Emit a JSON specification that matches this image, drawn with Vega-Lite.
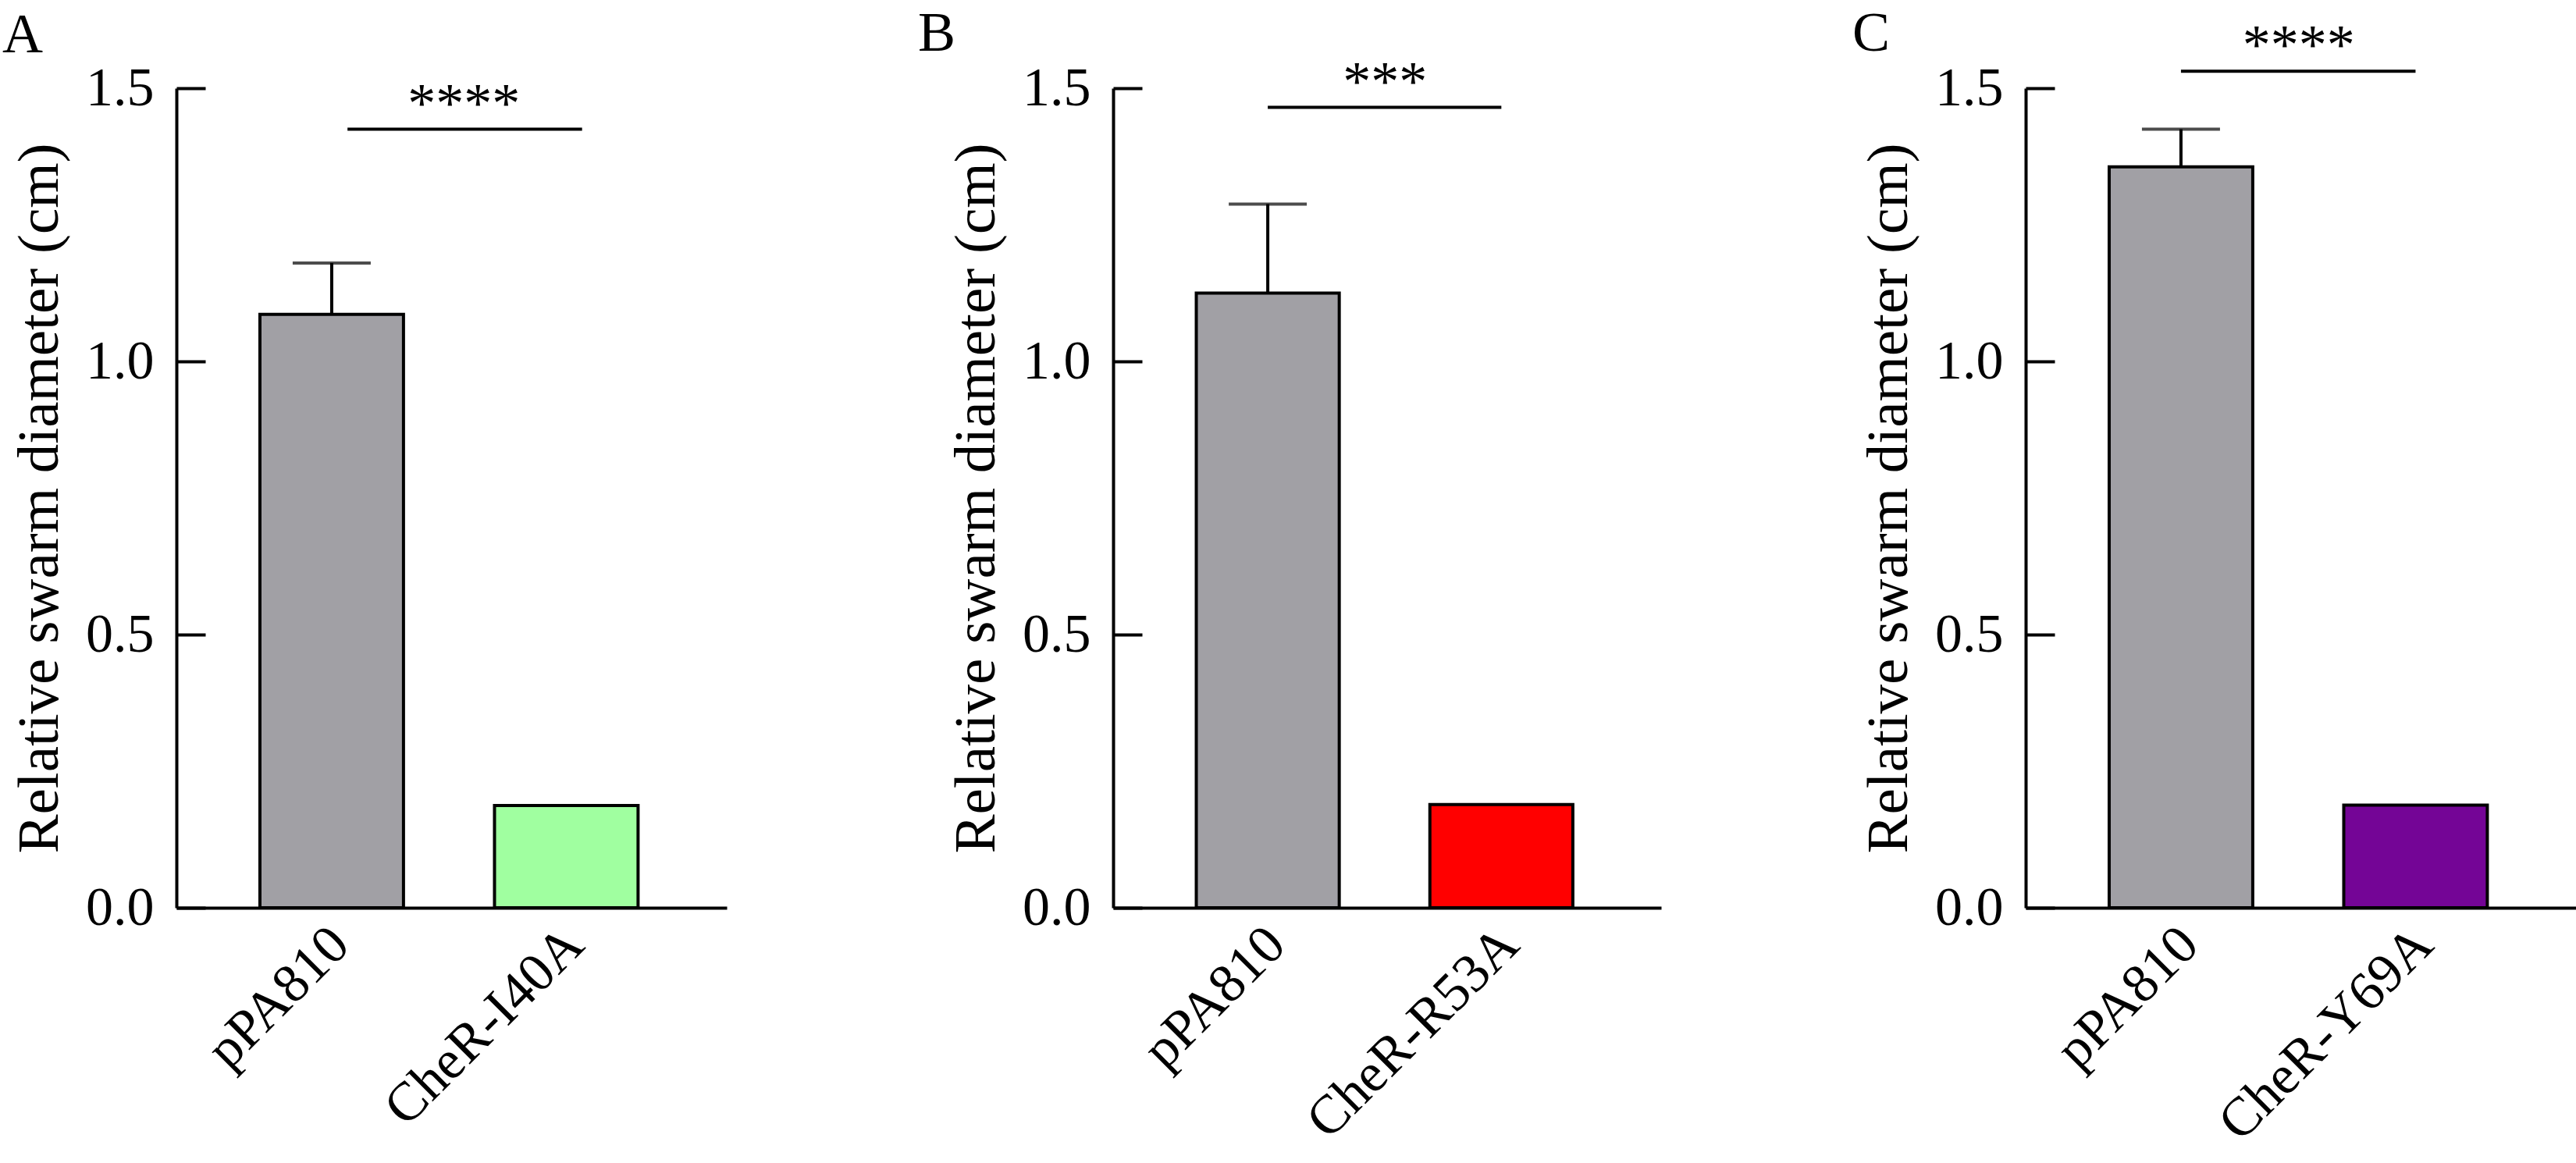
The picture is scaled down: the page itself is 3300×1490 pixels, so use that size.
{
  "$schema": "https://vega.github.io/schema/vega-lite/v6.json",
  "description": "Relative swarm diameter of pPA810 versus three CheR point mutants.",
  "padding": {"left": 3, "top": 6, "right": 0, "bottom": 0},
  "spacing": 245,
  "resolve": {"scale": {"color": "independent"}},
  "config": {
    "view": {"stroke": null},
    "font": "Liberation Serif",
    "axis": {
      "grid": false,
      "domainColor": "black",
      "domainWidth": 4,
      "tickColor": "black",
      "tickWidth": 4,
      "labelColor": "black",
      "labelFont": "Liberation Serif",
      "labelFontSize": 70,
      "labelLimit": 0,
      "titleFont": "Liberation Serif",
      "titleFontSize": 75,
      "titleFontWeight": "normal",
      "titleColor": "black"
    },
    "axisY": {"tickSize": -37, "labelPadding": 66, "titlePadding": 20, "labelFlush": false},
    "axisX": {"ticks": false, "labelAngle": -45, "labelAlign": "right", "labelBaseline": "middle", "labelPadding": 36, "labelOffset": 11, "labelOverlap": false},
    "title": {"font": "Liberation Serif", "fontSize": 72, "fontWeight": "normal", "color": "black", "anchor": "start", "frame": "group", "baseline": "alphabetic"}
  },
  "hconcat": [
    {
      "width": 705,
      "height": 1050,
      "title": {"text": "A", "dx": -223, "offset": -4},
      "data": {"values": [
        {"strain": "pPA810", "diameter": 1.086, "upper": 1.18},
        {"strain": "CheR-I40A", "diameter": 0.187}
      ]},
      "encoding": {
        "x": {"field": "strain", "type": "nominal",
          "scale": {"domain": ["pPA810", "CheR-I40A"], "paddingInner": 0.388, "paddingOuter": 0.367, "align": 0.485},
          "axis": {"title": null}}
      },
      "layer": [
        {
          "mark": {"type": "bar", "stroke": "black", "strokeWidth": 4},
          "encoding": {
            "y": {"field": "diameter", "type": "quantitative",
              "scale": {"domain": [0, 1.5], "nice": false},
              "axis": {"values": [0, 0.5, 1, 1.5], "format": ".1f", "title": "Relative swarm diameter (cm)"}},
            "color": {"field": "strain", "type": "nominal",
              "scale": {"domain": ["pPA810", "CheR-I40A"], "range": ["#a1a0a5", "#a0ffa0"]}, "legend": null}
          }
        },
        {
          "transform": [{"filter": "isValid(datum.upper)"}],
          "mark": {"type": "rule", "color": "black", "strokeWidth": 4},
          "encoding": {"y": {"field": "diameter", "type": "quantitative"}, "y2": {"field": "upper"}}
        },
        {
          "transform": [{"filter": "isValid(datum.upper)"}],
          "mark": {"type": "tick", "color": "black", "size": 100, "thickness": 4},
          "encoding": {"y": {"field": "upper", "type": "quantitative"}}
        },
        {
          "data": {"values": [{"from": "pPA810", "to": "CheR-I40A", "level": 1.425, "stars": "****"}]},
          "mark": {"type": "rule", "color": "black", "strokeWidth": 4},
          "encoding": {
            "x": {"field": "from", "type": "nominal", "bandPosition": 0.61},
            "x2": {"field": "to", "bandPosition": 0.61},
            "y": {"field": "level", "type": "quantitative"}
          }
        },
        {
          "data": {"values": [{"from": "pPA810", "to": "CheR-I40A", "level": 1.425, "stars": "****"}]},
          "mark": {"type": "text", "fontSize": 72, "baseline": "alphabetic", "dy": -10, "color": "black"},
          "encoding": {
            "x": {"field": "from", "type": "nominal", "bandPosition": 1.42},
            "y": {"field": "level", "type": "quantitative"},
            "text": {"field": "stars"}
          }
        }
      ]
    },
    {
      "width": 702,
      "height": 1050,
      "title": {"text": "B", "dx": -250, "offset": -10},
      "data": {"values": [
        {"strain": "pPA810", "diameter": 1.125, "upper": 1.288},
        {"strain": "CheR-R53A", "diameter": 0.189}
      ]},
      "encoding": {
        "x": {"field": "strain", "type": "nominal",
          "scale": {"domain": ["pPA810", "CheR-R53A"], "paddingInner": 0.388, "paddingOuter": 0.367, "align": 0.485},
          "axis": {"title": null}}
      },
      "layer": [
        {
          "mark": {"type": "bar", "stroke": "black", "strokeWidth": 4},
          "encoding": {
            "y": {"field": "diameter", "type": "quantitative",
              "scale": {"domain": [0, 1.5], "nice": false},
              "axis": {"values": [0, 0.5, 1, 1.5], "format": ".1f", "title": "Relative swarm diameter (cm)"}},
            "color": {"field": "strain", "type": "nominal",
              "scale": {"domain": ["pPA810", "CheR-R53A"], "range": ["#a1a0a5", "#ff0000"]}, "legend": null}
          }
        },
        {
          "transform": [{"filter": "isValid(datum.upper)"}],
          "mark": {"type": "rule", "color": "black", "strokeWidth": 4},
          "encoding": {"y": {"field": "diameter", "type": "quantitative"}, "y2": {"field": "upper"}}
        },
        {
          "transform": [{"filter": "isValid(datum.upper)"}],
          "mark": {"type": "tick", "color": "black", "size": 100, "thickness": 4},
          "encoding": {"y": {"field": "upper", "type": "quantitative"}}
        },
        {
          "data": {"values": [{"from": "pPA810", "to": "CheR-R53A", "level": 1.465, "stars": "***"}]},
          "mark": {"type": "rule", "color": "black", "strokeWidth": 4},
          "encoding": {
            "x": {"field": "from", "type": "nominal"},
            "x2": {"field": "to"},
            "y": {"field": "level", "type": "quantitative"}
          }
        },
        {
          "data": {"values": [{"from": "pPA810", "to": "CheR-R53A", "level": 1.465, "stars": "***"}]},
          "mark": {"type": "text", "fontSize": 72, "baseline": "alphabetic", "dy": -10, "color": "black"},
          "encoding": {
            "x": {"field": "from", "type": "nominal", "bandPosition": 1.32},
            "y": {"field": "level", "type": "quantitative"},
            "text": {"field": "stars"}
          }
        }
      ]
    },
    {
      "width": 705,
      "height": 1050,
      "title": {"text": "C", "dx": -222, "offset": -57},
      "data": {"values": [
        {"strain": "pPA810", "diameter": 1.356, "upper": 1.425},
        {"strain": "CheR-Y69A", "diameter": 0.188}
      ]},
      "encoding": {
        "x": {"field": "strain", "type": "nominal",
          "scale": {"domain": ["pPA810", "CheR-Y69A"], "paddingInner": 0.388, "paddingOuter": 0.367, "align": 0.485},
          "axis": {"title": null}}
      },
      "layer": [
        {
          "mark": {"type": "bar", "stroke": "black", "strokeWidth": 4},
          "encoding": {
            "y": {"field": "diameter", "type": "quantitative",
              "scale": {"domain": [0, 1.5], "nice": false},
              "axis": {"values": [0, 0.5, 1, 1.5], "format": ".1f", "title": "Relative swarm diameter (cm)"}},
            "color": {"field": "strain", "type": "nominal",
              "scale": {"domain": ["pPA810", "CheR-Y69A"], "range": ["#a1a0a5", "#740596"]}, "legend": null}
          }
        },
        {
          "transform": [{"filter": "isValid(datum.upper)"}],
          "mark": {"type": "rule", "color": "black", "strokeWidth": 4},
          "encoding": {"y": {"field": "diameter", "type": "quantitative"}, "y2": {"field": "upper"}}
        },
        {
          "transform": [{"filter": "isValid(datum.upper)"}],
          "mark": {"type": "tick", "color": "black", "size": 100, "thickness": 4},
          "encoding": {"y": {"field": "upper", "type": "quantitative"}}
        },
        {
          "data": {"values": [{"from": "pPA810", "to": "CheR-Y69A", "level": 1.531, "stars": "****"}]},
          "mark": {"type": "rule", "color": "black", "strokeWidth": 4},
          "encoding": {
            "x": {"field": "from", "type": "nominal"},
            "x2": {"field": "to"},
            "y": {"field": "level", "type": "quantitative"}
          }
        },
        {
          "data": {"values": [{"from": "pPA810", "to": "CheR-Y69A", "level": 1.531, "stars": "****"}]},
          "mark": {"type": "text", "fontSize": 72, "baseline": "alphabetic", "dy": -10, "color": "black"},
          "encoding": {
            "x": {"field": "from", "type": "nominal", "bandPosition": 1.32},
            "y": {"field": "level", "type": "quantitative"},
            "text": {"field": "stars"}
          }
        }
      ]
    }
  ]
}
